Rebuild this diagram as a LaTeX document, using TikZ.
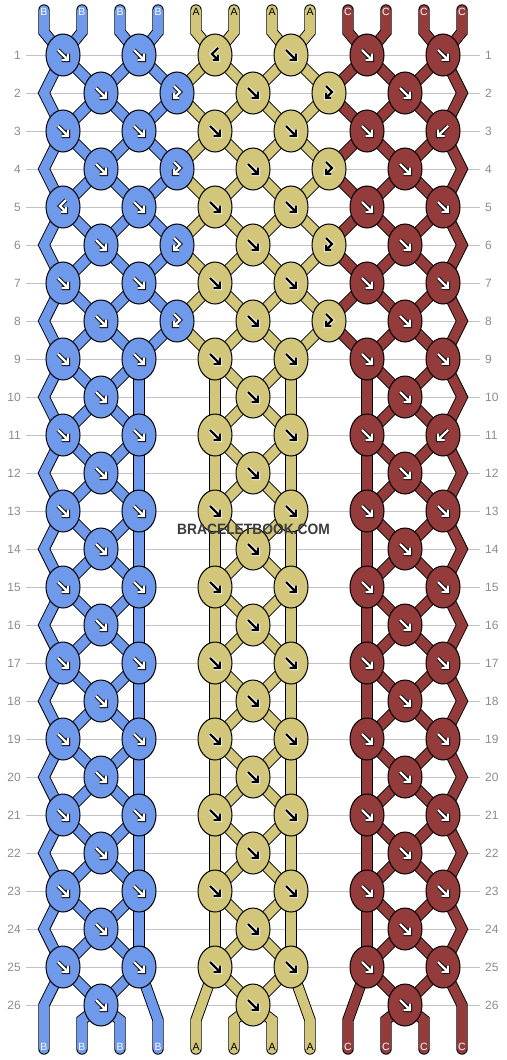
\documentclass[tikz,border=0pt]{standalone}
\usepackage{fontspec}
\setmainfont{Liberation Sans}
\usetikzlibrary{shapes.geometric}
\definecolor{cb}{RGB}{111,153,235}
\definecolor{cy}{RGB}{210,198,122}
\definecolor{cr}{RGB}{148,60,60}
\definecolor{gridc}{RGB}{195,195,195}
\definecolor{labc}{RGB}{140,140,140}
\definecolor{wmc}{RGB}{60,60,60}
\tikzset{
 strandout/.style={draw=black, line width=11.4, line cap=round, line join=miter},
 strandin/.style={line width=9.6, line cap=round, line join=miter},
 knot/.style={ellipse, draw=black, line width=1, minimum width=34, minimum height=42, inner sep=0},
 arrowout/.style={line width=4.2, line cap=square, line join=miter},
 arrowin/.style={line width=2.2, line cap=square, line join=miter},
 rowlab/.style={text=labc, inner sep=0, font=\fontsize{12}{12}\selectfont},
 endlab/.style={inner sep=0, font=\fontsize{10.5}{10.5}\selectfont},
 gridline/.style={draw=gridc, line width=1},
}
\newcommand\strand[2]{\draw[strandpass=#1] #2;}
\newcommand\segcolor[1]{\ifnum#1<3 \def\sc{cb}\else\ifnum#1<7 \def\sc{cy}\else\def\sc{cr}\fi\fi}
\def\pf{(-5,-5)--(4.5,4.5) (-1.5,5)--(5,5)--(5,-1.5)}
\def\pb{(5,-5)--(-4.5,4.5) (1.5,5)--(-5,5)--(-5,-1.5)}
\def\pfb{(-3,-7)--(3,-1)--(-3,5) (-3,0)--(-3,5)--(2,5)}
\def\pbf{(3,-7)--(-3,-1)--(3,5) (3,0)--(3,5)--(-2,5)}
\newcommand\knotarrow[5]{\begin{scope}[shift={(#2,#3)}]\draw[arrowout,draw=#5] #1;\draw[arrowin,draw=#4] #1;\end{scope}}
\newcommand\network{%
% diagonal strands
\foreach \r in {2,4,...,26}{
 \ifnum\r<10 \def\clist{1,3,5,7,9}\else\def\clist{1,5,9}\fi
 \pgfmathtruncatemacro\ru{\r-1}
 \pgfmathtruncatemacro\rd{\r+1}
 \foreach \c in \clist{
  \pgfmathtruncatemacro\lc{\c-1}
  \pgfmathtruncatemacro\rc{\c+1}
  \segcolor{\lc}\strand{\sc}{(p\ru-\lc) -- (p\r-\c)}
  \segcolor{\c}\strand{\sc}{(p\ru-\rc) -- (p\r-\c)}
  \ifnum\r<26
   \segcolor{\lc}\strand{\sc}{(p\r-\c) -- (p\rd-\lc)}
   \segcolor{\c}\strand{\sc}{(p\r-\c) -- (p\rd-\rc)}
  \fi
 }
}
% vertical strands (rows 9-25)
\foreach \r in {9,11,...,23}{
 \pgfmathtruncatemacro\rn{\r+2}
 \foreach \c/\scol in {2/cb,4/cy,6/cy,8/cr}{
  \strand{\scol}{(p\r-\c) -- (p\rn-\c)}
 }
}
% edge zigzags
\foreach \r in {1,3,...,23}{
 \pgfmathtruncatemacro\rn{\r+2}
 \pgfmathsetmacro\ym{55+38*\r}
 \strand{cb}{(p\r-0) -- (44,\ym) -- (p\rn-0)}
 \strand{cr}{(p\r-10) -- (462,\ym) -- (p\rn-10)}
}
% top strands
\foreach \j in {0,...,11}{
 \pgfmathsetmacro\xx{44+38*\j}
 \pgfmathtruncatemacro\c{2*floor(\j/2)}
 \ifnum\j<4 \def\scol{cb}\else\ifnum\j<8 \def\scol{cy}\else\def\scol{cr}\fi\fi
 \strand{\scol}{(ts\j) -- (\xx,32) -- (p1-\c)}
}
% bottom strands
\foreach \j/\kn/\by in {0/25-0/1005,1/26-1/1020,2/26-1/1020,3/25-2/1020,4/25-4/1020,5/26-5/1020,6/26-5/1020,7/25-6/1020,8/25-8/1020,9/26-9/1020,10/26-9/1020,11/25-10/1005}{
 \pgfmathsetmacro\xx{44+38*\j}
 \ifnum\j<4 \def\scol{cb}\else\ifnum\j<8 \def\scol{cy}\else\def\scol{cr}\fi\fi
 \strand{\scol}{(p\kn) -- (\xx,\by) -- (be\j)}
}}
\begin{document}
\begin{tikzpicture}[x=1pt,y=-1pt]
\useasboundingbox (0,0) rectangle (506,1060);
\fill[white] (0,0) rectangle (506,1060);
% row lines and numbers
\foreach \r in {1,...,26}{
 \pgfmathsetmacro\yy{55+38*(\r-1)}
 \node[rowlab, anchor=east] (ll\r) at (21,\yy) {\r};
 \node[rowlab, anchor=west] (rl\r) at (485,\yy) {\r};
 \draw[gridline] ([xshift=5pt]ll\r.east) -- ([xshift=-5pt]rl\r.west);
}
% knot positions
\foreach \r in {1,3,...,25}{
 \pgfmathsetmacro\yy{55+38*(\r-1)}
 \foreach \c in {0,2,4,6,8,10}{\pgfmathsetmacro\xx{63+38*\c}\coordinate (p\r-\c) at (\xx,\yy);}
}
\foreach \r in {2,4,...,26}{
 \pgfmathsetmacro\yy{55+38*(\r-1)}
 \foreach \c in {1,3,5,7,9}{\pgfmathsetmacro\xx{63+38*\c}\coordinate (p\r-\c) at (\xx,\yy);}
}
\foreach \j in {0,...,11}{
 \pgfmathsetmacro\xx{44+38*\j}
 \coordinate (ts\j) at (\xx,10);
 \coordinate (be\j) at (\xx,1049);
}
% strands: outlines, then colours
\begin{scope}[strandpass/.style={strandout}]\network\end{scope}
\begin{scope}[strandpass/.style={strandin,draw=#1}]\network\end{scope}
% odd-row knots
\foreach \r in {1,3,...,25}{
 \foreach \c/\kc/\fg/\bgc in {0/cb/white/black,2/cb/white/black,4/cy/black/white,6/cy/black/white,8/cr/white/black,10/cr/white/black}{
  \node[knot, fill=\kc] (k\r-\c) at (p\r-\c) {};
  \def\kp{\pf}
  \ifnum\r=1 \ifnum\c=4 \def\kp{\pbf}\fi\fi
  \ifnum\r=5 \ifnum\c=0 \def\kp{\pbf}\fi\fi
  \ifnum\r=3 \ifnum\c=10 \def\kp{\pb}\fi\fi
  \ifnum\r=11 \ifnum\c=10 \def\kp{\pb}\fi\fi
  \pgfmathsetmacro\xx{63+38*\c}
  \pgfmathsetmacro\yy{55+38*(\r-1)}
  \knotarrow{\kp}{\xx}{\yy}{\fg}{\bgc}
 }
}
% even-row knots
\foreach \r in {2,4,...,26}{
 \ifnum\r<10 \def\klist{1/cb/white/black,3/cb/white/black,5/cy/black/white,7/cy/black/white,9/cr/white/black}\else\def\klist{1/cb/white/black,5/cy/black/white,9/cr/white/black}\fi
 \foreach \c/\kc/\fg/\bgc in \klist{
  \node[knot, fill=\kc] (k\r-\c) at (p\r-\c) {};
  \def\kp{\pf}
  \ifnum\c=3 \def\kp{\pfb}\fi
  \ifnum\c=7 \def\kp{\pfb}\fi
  \pgfmathsetmacro\xx{63+38*\c}
  \pgfmathsetmacro\yy{55+38*(\r-1)}
  \knotarrow{\kp}{\xx}{\yy}{\fg}{\bgc}
 }
}
% end labels
\foreach \j in {0,...,11}{
 \pgfmathsetmacro\xx{44+38*\j}
 \ifnum\j<4 \def\lt{B}\def\tc{white}\else\ifnum\j<8 \def\lt{A}\def\tc{black}\else\def\lt{C}\def\tc{white}\fi\fi
 \node[endlab, text=\tc] (tl\j) at (\xx,12) {\lt};
 \node[endlab, text=\tc] (bl\j) at (\xx,1047) {\lt};
}
\node[text=wmc, inner sep=0, font=\bfseries\fontsize{15}{15}\selectfont] (wm) at (253.5,529.5) {\scalebox{0.92}[1]{BRACELETBOOK.COM}};
\end{tikzpicture}
\end{document}
